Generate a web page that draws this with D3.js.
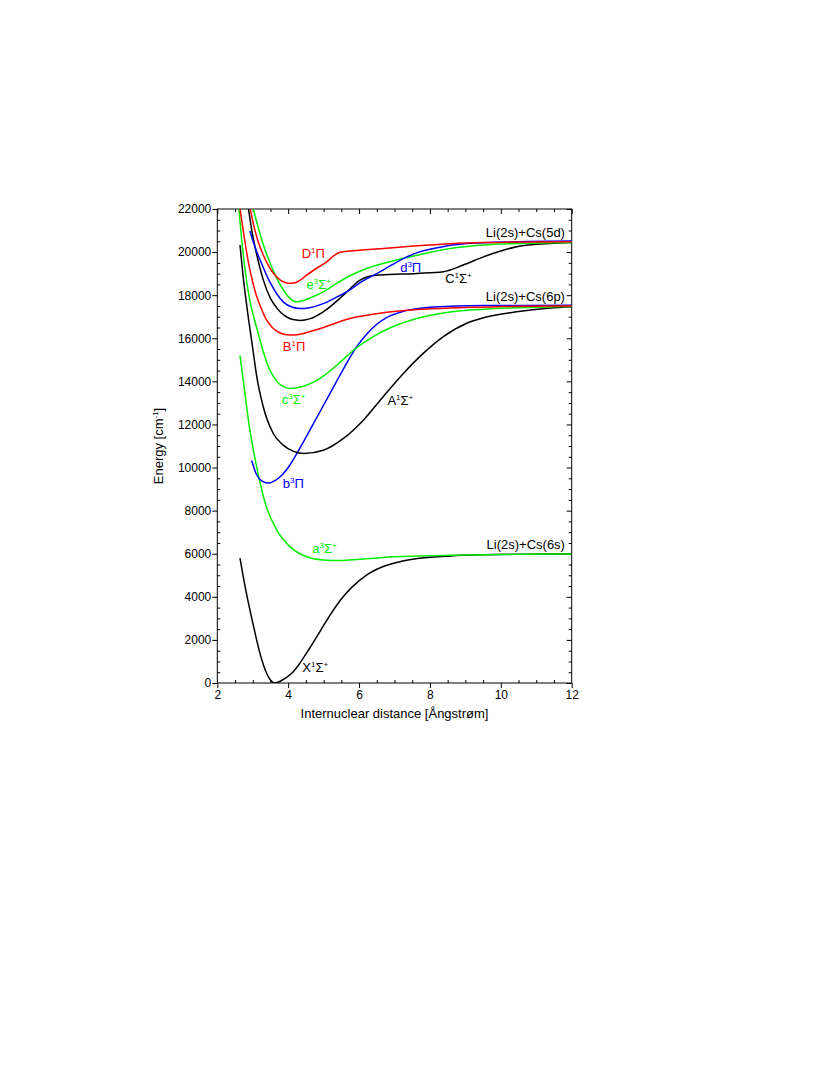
<!DOCTYPE html>
<html>
<head>
<meta charset="utf-8">
<script src="https://cdn.jsdelivr.net/npm/d3@7"></script>
<style>
  html, body { margin: 0; padding: 0; background: #fff; }
  svg text { font-family: "Liberation Sans", Arial, sans-serif; }
</style>
</head>
<body>
<svg id="chart" width="830" height="1075"></svg>
<script>
// ---- Data (internuclear distance in Å, energy in cm^-1) ----
const xTicks = [2, 4, 6, 8, 10, 12];
const yTicks = [0, 2000, 4000, 6000, 8000, 10000, 12000, 14000, 16000, 18000, 20000, 22000];

const X1Sigma = [[2.64,5800],[2.80,4350],[3.00,2800],[3.20,1400],[3.30,850],[3.40,420],[3.50,140],[3.62,0],[3.75,60],[3.90,200],[4.10,450],[4.30,850],[4.60,1600],[4.90,2400],[5.20,3200],[5.50,3900],[5.80,4450],[6.20,5000],[6.70,5420],[7.20,5650],[7.70,5790],[8.60,5900],[9.50,5950],[10.5,5975],[12,5990]];
const a3Sigma = [[2.64,15200],[2.76,13700],[2.90,11950],[3.02,10800],[3.16,9650],[3.37,8250],[3.68,7100],[4.05,6330],[4.52,5860],[5.00,5710],[5.40,5680],[6.00,5740],[6.68,5830],[7.60,5890],[8.57,5925],[10.5,5970],[12,5990]];
const b3Pi = [[2.97,10330],[3.10,9700],[3.25,9380],[3.44,9280],[3.65,9420],[3.86,9710],[4.05,10120],[4.24,10640],[4.45,11250],[4.65,11850],[4.85,12450],[5.10,13200],[5.35,13950],[5.60,14700],[5.93,15600],[6.22,16200],[6.50,16650],[6.80,16980],[7.25,17250],[8.10,17450],[9.50,17520],[12,17530]];
const A1Sigma = [[2.64,20330],[2.72,19000],[2.80,17900],[2.88,16900],[3.02,15300],[3.11,14250],[3.30,12800],[3.58,11580],[3.86,11040],[4.15,10750],[4.45,10650],[4.99,10800],[5.56,11350],[6.12,12200],[6.68,13290],[7.25,14370],[7.81,15300],[8.38,16080],[9.04,16700],[9.51,16950],[10.45,17230],[11.39,17400],[12,17460]];
const c3Sigma = [[2.61,22000],[2.68,20700],[2.76,19500],[2.85,18400],[2.95,17500],[3.06,16800],[3.20,15950],[3.39,14900],[3.68,14000],[3.90,13730],[4.05,13670],[4.40,13760],[4.70,13950],[5.00,14250],[5.37,14750],[5.93,15560],[6.40,16080],[6.90,16500],[7.63,16920],[8.57,17220],[9.51,17350],[10.5,17420],[12,17470]];
const B1Pi = [[2.64,22000],[2.75,20800],[2.88,19500],[3.00,18600],[3.11,17950],[3.25,17350],[3.39,16850],[3.55,16500],[3.68,16330],[3.85,16200],[4.05,16150],[4.30,16180],[4.80,16400],[5.74,16920],[6.68,17190],[7.63,17330],[8.57,17410],[10,17470],[12,17500]];
const C1Sigma = [[2.88,22000],[2.98,20950],[3.11,19900],[3.30,18700],[3.50,17850],[3.68,17400],[3.90,17050],[4.10,16880],[4.35,16830],[4.60,16900],[4.99,17230],[5.56,18000],[6.03,18700],[6.30,18880],[6.60,18940],[7.63,19010],[8.38,19090],[8.94,19400],[9.51,19780],[10.0,20050],[10.45,20250],[11.39,20400],[12,20440]];
const D1Pi = [[2.93,22000],[3.02,21300],[3.15,20500],[3.30,19850],[3.45,19350],[3.60,18980],[3.80,18680],[3.90,18600],[4.00,18555],[4.10,18550],[4.25,18610],[4.52,18930],[4.80,19250],[5.09,19550],[5.30,19850],[5.46,19990],[5.74,20050],[6.68,20170],[7.63,20290],[8.57,20390],[9.51,20440],[12,20480]];
const e3Sigma = [[3.02,22000],[3.06,21720],[3.18,21000],[3.30,20330],[3.50,19450],[3.68,18780],[3.90,18150],[4.05,17850],[4.15,17730],[4.25,17690],[4.40,17740],[4.60,17860],[4.99,18150],[5.40,18580],[5.74,18900],[6.20,19230],[6.68,19470],[7.44,19780],[8.57,20170],[9.51,20330],[10.45,20400],[12,20450]];
const d3Pi = [[2.92,20980],[3.05,20300],[3.20,19670],[3.49,18590],[3.86,17690],[4.10,17450],[4.33,17380],[4.60,17420],[4.99,17610],[5.30,17850],[5.74,18250],[6.10,18650],[6.50,19000],[6.90,19380],[7.25,19700],[7.60,19950],[8.10,20170],[9.04,20400],[10.45,20480],[12,20510]];

const curves = [
  {name: "X", data: X1Sigma, color: "#000000"},
  {name: "a", data: a3Sigma, color: "#00ee00"},
  {name: "b", data: b3Pi,    color: "#0000ff"},
  {name: "A", data: A1Sigma, color: "#000000"},
  {name: "c", data: c3Sigma, color: "#00ee00"},
  {name: "B", data: B1Pi,    color: "#ff0000"},
  {name: "C", data: C1Sigma, color: "#000000"},
  {name: "e", data: e3Sigma, color: "#00ee00"},
  {name: "d", data: d3Pi,    color: "#0000ff"},
  {name: "D", data: D1Pi,    color: "#ff0000"}
];

// state labels: [main letter, superscript, symbol, symbol superscript, x, E, color]
const stateLabels = [
  ["D","1","Π","",4.38,19744,"#ff0000"],
  ["e","3","Σ","+",4.52,18281,"#00ee00"],
  ["d","3","Π","",7.16,19082,"#0000ff"],
  ["C","1","Σ","+",8.43,18559,"#000000"],
  ["B","1","Π","",3.85,15423,"#ff0000"],
  ["c","3","Σ","+",3.82,12955,"#00ee00"],
  ["A","1","Σ","+",6.80,12922,"#000000"],
  ["b","3","Π","",3.85,9045,"#0000ff"],
  ["a","3","Σ","+",4.68,6035,"#00ee00"],
  ["X","1","Σ","+",4.40,523,"#000000"]
];
const asymptoteLabels = [
  ["Li(2s)+Cs(5d)", 11.81, 20703],
  ["Li(2s)+Cs(6p)", 11.81, 17739],
  ["Li(2s)+Cs(6s)", 11.81, 6206]
];

// ---- Layout ----
const pL = 217.3, pR = 571.7, pT = 209, pB = 683;
const svg = d3.select("#chart");
const x = d3.scaleLinear().domain([2, 12]).range([pL, pR]);
const y = d3.scaleLinear().domain([0, 22000]).range([pB, pT]);

const xMinor = d3.range(2, 12.001, 0.5).filter(v => Math.abs(v/2 - Math.round(v/2)) > 1e-6);
const yMinor = d3.range(0, 22001, 500).filter(v => v % 2000 !== 0);

function styleAxis(g) {
  g.select(".domain").remove();
  g.selectAll("line").attr("stroke", "#000").attr("stroke-width", 1);
  g.selectAll("text").attr("font-size", 12).attr("fill", "#000")
    .style("font-family", "'Liberation Sans', Arial, sans-serif");
}

// bottom
svg.append("g").attr("transform", `translate(0,${pB})`)
  .call(d3.axisBottom(x).tickValues(xTicks).tickSize(5).tickPadding(2).tickFormat(d3.format("d")))
  .call(styleAxis);
svg.append("g").attr("transform", `translate(0,${pB})`)
  .call(d3.axisBottom(x).tickValues(xMinor).tickSize(-3).tickFormat(""))
  .call(styleAxis);
// top
svg.append("g").attr("transform", `translate(0,${pT})`)
  .call(d3.axisTop(x).tickValues(xTicks).tickSize(-5).tickFormat(""))
  .call(styleAxis);
svg.append("g").attr("transform", `translate(0,${pT})`)
  .call(d3.axisTop(x).tickValues(xMinor).tickSize(-3).tickFormat(""))
  .call(styleAxis);
// left
svg.append("g").attr("transform", `translate(${pL},0)`)
  .call(d3.axisLeft(y).tickValues(yTicks).tickSize(5).tickPadding(1).tickFormat(d3.format("d")))
  .call(styleAxis);
svg.append("g").attr("transform", `translate(${pL},0)`)
  .call(d3.axisLeft(y).tickValues(yMinor).tickSize(-3).tickFormat(""))
  .call(styleAxis);
// right
svg.append("g").attr("transform", `translate(${pR},0)`)
  .call(d3.axisRight(y).tickValues(yTicks).tickSize(-5).tickFormat(""))
  .call(styleAxis);
svg.append("g").attr("transform", `translate(${pR},0)`)
  .call(d3.axisRight(y).tickValues(yMinor).tickSize(-3).tickFormat(""))
  .call(styleAxis);

// frame
svg.append("rect").attr("x", pL).attr("y", pT)
  .attr("width", pR - pL).attr("height", pB - pT)
  .attr("fill", "none").attr("stroke", "#000").attr("stroke-width", 1);

// clip
svg.append("clipPath").attr("id", "plotclip").append("rect")
  .attr("x", pL).attr("y", pT).attr("width", pR - pL).attr("height", pB - pT);

const line = d3.line().x(d => x(d[0])).y(d => y(d[1])).curve(d3.curveMonotoneX);

svg.append("g").attr("clip-path", "url(#plotclip)")
  .selectAll("path").data(curves).join("path")
  .attr("d", d => line(d.data))
  .attr("fill", "none")
  .attr("stroke", d => d.color)
  .attr("stroke-width", 1.5)
  .attr("stroke-linejoin", "round");

// state labels
stateLabels.forEach(l => {
  const t = svg.append("text").attr("x", x(l[4])).attr("y", y(l[5]))
    .attr("font-size", 13).attr("fill", l[6]);
  t.append("tspan").text(l[0]);
  t.append("tspan").attr("font-size", 8).attr("dy", -5).text(l[1]);
  t.append("tspan").attr("dy", 5).text(l[2]);
  if (l[3]) t.append("tspan").attr("font-size", 8).attr("dy", -5).text(l[3]);
});

// asymptote labels
svg.selectAll("text.asym").data(asymptoteLabels).join("text")
  .attr("class", "asym")
  .attr("x", d => x(d[1])).attr("y", d => y(d[2]))
  .attr("text-anchor", "end").attr("font-size", 13).attr("fill", "#000")
  .text(d => d[0]);

// axis titles
svg.append("text").attr("x", (pL + pR) / 2).attr("y", 718)
  .attr("text-anchor", "middle").attr("font-size", 13).attr("fill", "#000")
  .text("Internuclear distance [Ångstrøm]");

const yt = svg.append("text")
  .attr("transform", `translate(162.5,${(pT + pB) / 2}) rotate(-90)`)
  .attr("text-anchor", "middle").attr("font-size", 13).attr("fill", "#000");
yt.append("tspan").text("Energy [cm");
yt.append("tspan").attr("font-size", 8).attr("dy", -5).text("-1");
yt.append("tspan").attr("dy", 5).text("]");
</script>
</body>
</html>
